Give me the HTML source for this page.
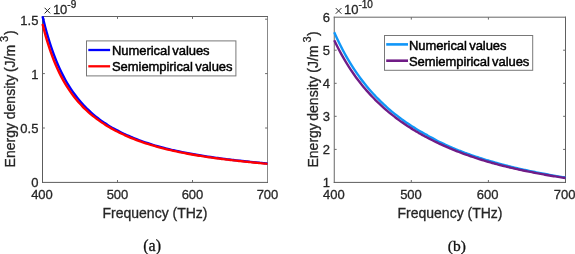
<!DOCTYPE html>
<html><head><meta charset="utf-8"><title>Energy density vs frequency</title>
<style>
html,body{margin:0;padding:0;background:#fff;}
body{width:575px;height:254px;overflow:hidden;font-family:"Liberation Sans",sans-serif;}
svg{display:block;will-change:transform;font-family:"Liberation Sans",sans-serif;}
</style></head><body>
<svg width="575" height="254" viewBox="0 0 575 254">
<rect width="575" height="254" fill="#fff"/>
<g id="chart-a">
<path d="M42.5,16.0V182.9" stroke="#5c5c5c" stroke-width="1" fill="none"/>
<path d="M267.5,16.0V182.9" stroke="#888" stroke-width="1" fill="none"/>
<path d="M42.0,16.5H268.0" stroke="#606060" stroke-width="1" fill="none"/>
<path d="M42.0,182.4H268.0" stroke="#5c5c5c" stroke-width="1" fill="none"/>
<path d="M117.5,182.4v-2.4" stroke="#6a6a6a" stroke-width="1" fill="none"/>
<path d="M117.5,16.5v2.4" stroke="#6a6a6a" stroke-width="1" fill="none"/>
<path d="M192.5,182.4v-2.4" stroke="#6a6a6a" stroke-width="1" fill="none"/>
<path d="M192.5,16.5v2.4" stroke="#6a6a6a" stroke-width="1" fill="none"/>
<path d="M42.5,128.0h2.4" stroke="#6a6a6a" stroke-width="1" fill="none"/>
<path d="M267.5,128.0h-2.4" stroke="#6a6a6a" stroke-width="1" fill="none"/>
<path d="M42.5,73.6h2.4" stroke="#6a6a6a" stroke-width="1" fill="none"/>
<path d="M267.5,73.6h-2.4" stroke="#6a6a6a" stroke-width="1" fill="none"/>
<path d="M42.5,19.2h2.4" stroke="#6a6a6a" stroke-width="1" fill="none"/>
<path d="M267.5,19.2h-2.4" stroke="#6a6a6a" stroke-width="1" fill="none"/>
<path d="M42.50,16.20C42.98,18.10 44.40,24.02 45.35,27.60C46.30,31.18 47.25,34.52 48.20,37.70C49.15,40.88 50.09,43.84 51.04,46.68C51.99,49.52 52.94,52.18 53.89,54.72C54.84,57.26 55.79,59.65 56.74,61.94C57.69,64.23 58.64,66.38 59.59,68.45C60.54,70.52 61.49,72.47 62.44,74.35C63.39,76.23 64.33,78.01 65.28,79.72C66.23,81.43 67.18,83.06 68.13,84.62C69.08,86.19 70.03,87.67 70.98,89.11C71.93,90.55 72.88,91.92 73.83,93.24C74.78,94.56 75.73,95.82 76.68,97.04C77.63,98.26 78.58,99.43 79.53,100.56C80.48,101.69 81.42,102.78 82.37,103.83C83.32,104.88 84.27,105.88 85.22,106.86C86.17,107.84 87.12,108.78 88.07,109.69C89.02,110.60 89.97,111.48 90.92,112.34C91.87,113.20 92.82,114.02 93.77,114.82C94.72,115.62 95.66,116.39 96.61,117.14C97.56,117.89 98.51,118.62 99.46,119.33C100.41,120.04 101.36,120.72 102.31,121.39C103.26,122.06 104.21,122.71 105.16,123.34C106.11,123.97 107.06,124.57 108.01,125.17C108.96,125.77 109.90,126.35 110.85,126.92C111.80,127.49 112.75,128.03 113.70,128.57C114.65,129.10 115.60,129.62 116.55,130.13C117.50,130.64 118.45,131.13 119.40,131.62C120.35,132.11 121.30,132.58 122.25,133.04C123.20,133.50 124.14,133.95 125.09,134.39C126.04,134.83 126.99,135.26 127.94,135.68C128.89,136.10 129.84,136.51 130.79,136.91C131.74,137.31 132.69,137.70 133.64,138.08C134.59,138.46 135.54,138.84 136.49,139.21C137.44,139.58 138.39,139.93 139.34,140.28C140.29,140.63 141.23,140.97 142.18,141.31C143.13,141.65 144.08,141.98 145.03,142.30C145.98,142.62 146.93,142.93 147.88,143.24C148.83,143.55 149.78,143.85 150.73,144.15C151.68,144.45 152.63,144.74 153.58,145.02C154.53,145.31 155.47,145.59 156.42,145.86C157.37,146.13 158.32,146.40 159.27,146.66C160.22,146.92 161.17,147.18 162.12,147.43C163.07,147.68 164.02,147.93 164.97,148.17C165.92,148.41 166.87,148.65 167.82,148.89C168.77,149.12 169.71,149.36 170.66,149.58C171.61,149.81 172.56,150.02 173.51,150.24C174.46,150.46 175.41,150.67 176.36,150.88C177.31,151.09 178.26,151.29 179.21,151.49C180.16,151.69 181.11,151.89 182.06,152.08C183.01,152.28 183.96,152.47 184.91,152.66C185.86,152.85 186.80,153.03 187.75,153.21C188.70,153.39 189.65,153.56 190.60,153.74C191.55,153.92 192.50,154.09 193.45,154.26C194.40,154.43 195.35,154.60 196.30,154.76C197.25,154.92 198.20,155.08 199.15,155.24C200.10,155.40 201.04,155.55 201.99,155.70C202.94,155.85 203.89,156.00 204.84,156.15C205.79,156.30 206.74,156.45 207.69,156.59C208.64,156.73 209.59,156.87 210.54,157.01C211.49,157.15 212.44,157.28 213.39,157.42C214.34,157.55 215.28,157.69 216.23,157.82C217.18,157.95 218.13,158.08 219.08,158.21C220.03,158.34 220.98,158.46 221.93,158.58C222.88,158.70 223.83,158.82 224.78,158.94C225.73,159.06 226.68,159.18 227.63,159.30C228.58,159.42 229.52,159.53 230.47,159.64C231.42,159.75 232.37,159.87 233.32,159.98C234.27,160.09 235.22,160.20 236.17,160.31C237.12,160.42 238.07,160.53 239.02,160.63C239.97,160.73 240.92,160.84 241.87,160.94C242.82,161.04 243.77,161.14 244.72,161.24C245.67,161.34 246.61,161.44 247.56,161.54C248.51,161.64 249.46,161.73 250.41,161.83C251.36,161.93 252.31,162.03 253.26,162.12C254.21,162.22 255.16,162.31 256.11,162.40C257.06,162.49 258.01,162.58 258.96,162.67C259.91,162.76 260.85,162.86 261.80,162.95C262.75,163.04 263.70,163.12 264.65,163.21C265.60,163.30 267.02,163.44 267.50,163.48" fill="none" stroke="#0000ff" stroke-width="2.35" stroke-linecap="butt" stroke-linejoin="round"/>
<path d="M42.50,23.97C42.98,25.79 44.40,31.45 45.35,34.87C46.30,38.28 47.25,41.45 48.20,44.46C49.15,47.47 50.09,50.28 51.04,52.95C51.99,55.62 52.94,58.12 53.89,60.51C54.84,62.90 55.79,65.14 56.74,67.28C57.69,69.42 58.64,71.44 59.59,73.37C60.54,75.30 61.49,77.13 62.44,78.88C63.39,80.63 64.33,82.29 65.28,83.88C66.23,85.47 67.18,86.98 68.13,88.44C69.08,89.89 70.03,91.28 70.98,92.61C71.93,93.94 72.88,95.22 73.83,96.45C74.78,97.68 75.73,98.86 76.68,100.00C77.63,101.14 78.58,102.23 79.53,103.28C80.48,104.33 81.42,105.34 82.37,106.32C83.32,107.30 84.27,108.24 85.22,109.16C86.17,110.08 87.12,110.96 88.07,111.82C89.02,112.68 89.97,113.50 90.92,114.30C91.87,115.10 92.82,115.88 93.77,116.63C94.72,117.38 95.66,118.12 96.61,118.83C97.56,119.54 98.51,120.23 99.46,120.90C100.41,121.57 101.36,122.22 102.31,122.86C103.26,123.50 104.21,124.11 105.16,124.71C106.11,125.31 107.06,125.90 108.01,126.47C108.96,127.04 109.90,127.59 110.85,128.13C111.80,128.67 112.75,129.20 113.70,129.72C114.65,130.24 115.60,130.74 116.55,131.23C117.50,131.72 118.45,132.19 119.40,132.66C120.35,133.13 121.30,133.59 122.25,134.04C123.20,134.49 124.14,134.92 125.09,135.35C126.04,135.78 126.99,136.19 127.94,136.60C128.89,137.01 129.84,137.40 130.79,137.79C131.74,138.18 132.69,138.56 133.64,138.94C134.59,139.31 135.54,139.68 136.49,140.04C137.44,140.40 138.39,140.75 139.34,141.09C140.29,141.43 141.23,141.76 142.18,142.09C143.13,142.42 144.08,142.74 145.03,143.06C145.98,143.38 146.93,143.69 147.88,143.99C148.83,144.29 149.78,144.59 150.73,144.88C151.68,145.17 152.63,145.45 153.58,145.73C154.53,146.01 155.47,146.28 156.42,146.55C157.37,146.82 158.32,147.08 159.27,147.34C160.22,147.60 161.17,147.85 162.12,148.10C163.07,148.35 164.02,148.59 164.97,148.83C165.92,149.07 166.87,149.30 167.82,149.53C168.77,149.76 169.71,149.98 170.66,150.20C171.61,150.42 172.56,150.64 173.51,150.85C174.46,151.06 175.41,151.26 176.36,151.47C177.31,151.68 178.26,151.88 179.21,152.08C180.16,152.28 181.11,152.47 182.06,152.66C183.01,152.85 183.96,153.03 184.91,153.21C185.86,153.39 186.80,153.57 187.75,153.75C188.70,153.93 189.65,154.10 190.60,154.27C191.55,154.44 192.50,154.61 193.45,154.77C194.40,154.94 195.35,155.10 196.30,155.26C197.25,155.42 198.20,155.58 199.15,155.73C200.10,155.88 201.04,156.03 201.99,156.18C202.94,156.33 203.89,156.48 204.84,156.62C205.79,156.76 206.74,156.90 207.69,157.04C208.64,157.18 209.59,157.31 210.54,157.45C211.49,157.58 212.44,157.72 213.39,157.85C214.34,157.98 215.28,158.10 216.23,158.23C217.18,158.36 218.13,158.49 219.08,158.61C220.03,158.73 220.98,158.85 221.93,158.97C222.88,159.09 223.83,159.20 224.78,159.32C225.73,159.44 226.68,159.55 227.63,159.67C228.58,159.78 229.52,159.90 230.47,160.01C231.42,160.12 232.37,160.22 233.32,160.33C234.27,160.44 235.22,160.55 236.17,160.66C237.12,160.77 238.07,160.87 239.02,160.97C239.97,161.07 240.92,161.18 241.87,161.28C242.82,161.38 243.77,161.48 244.72,161.58C245.67,161.68 246.61,161.78 247.56,161.88C248.51,161.98 249.46,162.07 250.41,162.17C251.36,162.27 252.31,162.36 253.26,162.46C254.21,162.56 255.16,162.66 256.11,162.75C257.06,162.84 258.01,162.94 258.96,163.03C259.91,163.12 260.85,163.22 261.80,163.31C262.75,163.40 263.70,163.49 264.65,163.58C265.60,163.67 267.02,163.81 267.50,163.86" fill="none" stroke="#ff0000" stroke-width="2.35" stroke-linecap="butt" stroke-linejoin="round"/>
<text x="42.0" y="199.3" font-size="13" text-anchor="middle" fill="#262626" stroke="#262626" stroke-width="0.3">400</text>
<text x="117.5" y="199.3" font-size="13" text-anchor="middle" fill="#262626" stroke="#262626" stroke-width="0.3">500</text>
<text x="192.5" y="199.3" font-size="13" text-anchor="middle" fill="#262626" stroke="#262626" stroke-width="0.3">600</text>
<text x="267.5" y="199.3" font-size="13" text-anchor="middle" fill="#262626" stroke="#262626" stroke-width="0.3">700</text>
<text x="38.4" y="187.00" font-size="13" text-anchor="end" fill="#262626" stroke="#262626" stroke-width="0.3" >0</text>
<text x="38.4" y="133.20" font-size="13" text-anchor="end" fill="#262626" stroke="#262626" stroke-width="0.3" >0.5</text>
<text x="38.4" y="78.60" font-size="13" text-anchor="end" fill="#262626" stroke="#262626" stroke-width="0.3" >1</text>
<text x="38.4" y="24.60" font-size="13" text-anchor="end" fill="#262626" stroke="#262626" stroke-width="0.3" >1.5</text>
<path d="M44.6,7.8L50.199999999999996,13.399999999999999M44.6,13.399999999999999L50.199999999999996,7.8" stroke="#262626" stroke-width="1.0" fill="none"/>
<text x="52.9" y="13.8" font-size="13" fill="#262626" stroke="#262626" stroke-width="0.3">10</text>
<text x="67.3" y="7.75" font-size="10" fill="#262626" stroke="#262626" stroke-width="0.3">-9</text>
<text x="155" y="217.8" font-size="14" text-anchor="middle" fill="#262626" stroke="#262626" stroke-width="0.3" >Frequency (THz)</text>
<text transform="translate(15.2,167.4) rotate(-90)" font-size="14" fill="#262626" stroke="#262626" stroke-width="0.3">Energy</text>
<text transform="translate(15.2,119.2) rotate(-90)" font-size="14" fill="#262626" stroke="#262626" stroke-width="0.3">density</text>
<text transform="translate(15.2,72.1) rotate(-90)" font-size="14" fill="#262626" stroke="#262626" stroke-width="0.3">(J/m</text>
<text transform="translate(8.399999999999999,41.9) rotate(-90)" font-size="11" fill="#262626" stroke="#262626" stroke-width="0.3">3</text>
<text transform="translate(15.2,35.1) rotate(-90)" font-size="14" fill="#262626" stroke="#262626" stroke-width="0.3">)</text>
<rect x="86.5" y="40.9" width="149.40" height="35.00" fill="#fff" stroke="#787878" stroke-width="1"/>
<path d="M88.3,50.0H110.1" stroke="#0000ff" stroke-width="2.3" fill="none"/>
<text x="112" y="54.80" font-size="13" fill="#000" word-spacing="-1.2" letter-spacing="-0.06" stroke="#000" stroke-width="0.45">Numerical values</text>
<path d="M88.3,66.3H110.1" stroke="#ff0000" stroke-width="2.3" fill="none"/>
<text x="112" y="70.90" font-size="13" fill="#000" word-spacing="-1.2" letter-spacing="-0.06" stroke="#000" stroke-width="0.45">Semiempirical values</text>
<text x="152.1" y="251.2" font-size="16" text-anchor="middle" fill="#111" stroke="#111" stroke-width="0.3" font-family="'Liberation Serif', serif">(a)</text>
</g>
<g id="chart-b">
<path d="M334.25,16.7V182.9" stroke="#666" stroke-width="1" fill="none"/>
<path d="M565.5,16.7V182.9" stroke="#606060" stroke-width="1" fill="none"/>
<path d="M333.75,17.2H566.0" stroke="#666" stroke-width="1" fill="none"/>
<path d="M333.75,182.4H566.0" stroke="#5c5c5c" stroke-width="1" fill="none"/>
<path d="M411.3,182.4v-2.4" stroke="#6a6a6a" stroke-width="1" fill="none"/>
<path d="M411.3,17.2v2.4" stroke="#6a6a6a" stroke-width="1" fill="none"/>
<path d="M488.4,182.4v-2.4" stroke="#6a6a6a" stroke-width="1" fill="none"/>
<path d="M488.4,17.2v2.4" stroke="#6a6a6a" stroke-width="1" fill="none"/>
<path d="M334.25,149.4h2.4" stroke="#6a6a6a" stroke-width="1" fill="none"/>
<path d="M565.5,149.4h-2.4" stroke="#6a6a6a" stroke-width="1" fill="none"/>
<path d="M334.25,116.3h2.4" stroke="#6a6a6a" stroke-width="1" fill="none"/>
<path d="M565.5,116.3h-2.4" stroke="#6a6a6a" stroke-width="1" fill="none"/>
<path d="M334.25,83.3h2.4" stroke="#6a6a6a" stroke-width="1" fill="none"/>
<path d="M565.5,83.3h-2.4" stroke="#6a6a6a" stroke-width="1" fill="none"/>
<path d="M334.25,50.2h2.4" stroke="#6a6a6a" stroke-width="1" fill="none"/>
<path d="M565.5,50.2h-2.4" stroke="#6a6a6a" stroke-width="1" fill="none"/>
<path d="M334.25,32.33C334.74,33.40 336.20,36.67 337.18,38.75C338.16,40.83 339.12,42.83 340.10,44.78C341.08,46.73 342.05,48.62 343.03,50.46C344.01,52.30 344.98,54.07 345.96,55.80C346.94,57.53 347.91,59.21 348.89,60.84C349.87,62.47 350.83,64.05 351.81,65.60C352.79,67.14 353.76,68.65 354.74,70.11C355.72,71.57 356.70,72.99 357.67,74.38C358.64,75.77 359.62,77.11 360.59,78.43C361.56,79.75 362.54,81.03 363.52,82.28C364.50,83.53 365.47,84.75 366.45,85.94C367.43,87.13 368.40,88.30 369.38,89.43C370.36,90.57 371.32,91.67 372.30,92.75C373.28,93.83 374.25,94.89 375.23,95.92C376.21,96.95 377.18,97.97 378.16,98.96C379.14,99.95 380.12,100.91 381.09,101.86C382.06,102.81 383.03,103.73 384.01,104.64C384.99,105.55 385.96,106.43 386.94,107.30C387.92,108.17 388.89,109.01 389.87,109.85C390.85,110.69 391.81,111.51 392.79,112.31C393.77,113.11 394.74,113.89 395.72,114.66C396.70,115.43 397.67,116.19 398.65,116.93C399.63,117.67 400.60,118.40 401.58,119.11C402.56,119.82 403.52,120.52 404.50,121.21C405.48,121.90 406.45,122.58 407.43,123.24C408.41,123.90 409.38,124.55 410.36,125.19C411.34,125.83 412.30,126.46 413.28,127.08C414.25,127.70 415.23,128.30 416.21,128.90C417.19,129.50 418.16,130.09 419.14,130.67C420.12,131.25 421.09,131.81 422.07,132.37C423.05,132.93 424.01,133.47 424.99,134.02C425.97,134.58 426.94,135.15 427.92,135.70C428.90,136.25 429.87,136.79 430.85,137.33C431.83,137.87 432.80,138.40 433.78,138.92C434.75,139.44 435.72,139.96 436.70,140.46C437.68,140.97 438.65,141.46 439.63,141.95C440.61,142.44 441.58,142.93 442.56,143.41C443.54,143.89 444.50,144.36 445.48,144.81C446.46,145.26 447.43,145.69 448.41,146.12C449.39,146.55 450.36,146.97 451.34,147.39C452.32,147.81 453.29,148.22 454.27,148.62C455.25,149.03 456.21,149.42 457.19,149.82C458.17,150.22 459.14,150.61 460.12,150.99C461.10,151.37 462.07,151.74 463.05,152.11C464.03,152.48 465.00,152.83 465.97,153.19C466.95,153.55 467.92,153.90 468.90,154.25C469.88,154.60 470.85,154.94 471.83,155.28C472.81,155.62 473.78,155.95 474.76,156.28C475.74,156.61 476.70,156.94 477.68,157.26C478.66,157.58 479.63,157.89 480.61,158.20C481.59,158.51 482.56,158.82 483.54,159.13C484.52,159.44 485.50,159.73 486.47,160.03C487.45,160.33 488.41,160.62 489.39,160.91C490.37,161.20 491.34,161.49 492.32,161.77C493.30,162.05 494.27,162.33 495.25,162.60C496.23,162.87 497.19,163.14 498.17,163.41C499.15,163.68 500.12,163.94 501.10,164.20C502.08,164.46 503.05,164.72 504.03,164.98C505.01,165.23 505.98,165.48 506.96,165.73C507.94,165.98 508.90,166.23 509.88,166.47C510.86,166.71 511.83,166.94 512.81,167.18C513.79,167.42 514.76,167.65 515.74,167.88C516.72,168.11 517.68,168.34 518.66,168.56C519.63,168.78 520.61,169.01 521.59,169.23C522.57,169.45 523.54,169.66 524.52,169.87C525.50,170.08 526.48,170.30 527.45,170.51C528.43,170.72 529.39,170.92 530.37,171.12C531.35,171.32 532.32,171.53 533.30,171.73C534.28,171.93 535.25,172.12 536.23,172.31C537.21,172.50 538.18,172.70 539.16,172.89C540.13,173.08 541.11,173.26 542.08,173.45C543.06,173.64 544.03,173.83 545.01,174.01C545.99,174.19 546.97,174.37 547.94,174.55C548.92,174.73 549.88,174.91 550.86,175.08C551.84,175.25 552.81,175.43 553.79,175.60C554.77,175.77 555.74,175.93 556.72,176.10C557.70,176.27 558.67,176.44 559.65,176.60C560.62,176.76 561.60,176.92 562.57,177.08C563.55,177.24 565.01,177.46 565.50,177.54" fill="none" stroke="#1096f8" stroke-width="2.4" stroke-linecap="butt" stroke-linejoin="round"/>
<path d="M334.25,40.25C334.74,41.24 336.20,44.29 337.18,46.22C338.16,48.15 339.12,50.01 340.10,51.83C341.08,53.65 342.05,55.41 343.03,57.12C344.01,58.83 344.98,60.49 345.96,62.10C346.94,63.71 347.91,65.27 348.89,66.80C349.87,68.33 350.83,69.81 351.81,71.25C352.79,72.69 353.76,74.10 354.74,75.47C355.72,76.84 356.70,78.17 357.67,79.47C358.64,80.77 359.62,82.04 360.59,83.28C361.56,84.52 362.54,85.72 363.52,86.90C364.50,88.08 365.47,89.23 366.45,90.35C367.43,91.47 368.40,92.57 369.38,93.64C370.36,94.71 371.32,95.75 372.30,96.78C373.28,97.81 374.25,98.81 375.23,99.79C376.21,100.77 377.18,101.73 378.16,102.67C379.14,103.61 380.12,104.53 381.09,105.43C382.06,106.33 383.03,107.22 384.01,108.08C384.99,108.94 385.96,109.79 386.94,110.62C387.92,111.45 388.89,112.27 389.87,113.07C390.85,113.87 391.81,114.65 392.79,115.42C393.77,116.19 394.74,116.95 395.72,117.69C396.70,118.43 397.67,119.16 398.65,119.87C399.63,120.58 400.60,121.28 401.58,121.97C402.56,122.66 403.52,123.34 404.50,124.01C405.48,124.68 406.45,125.33 407.43,125.97C408.41,126.61 409.38,127.24 410.36,127.86C411.34,128.48 412.30,129.10 413.28,129.70C414.25,130.30 415.23,130.89 416.21,131.47C417.19,132.05 418.16,132.63 419.14,133.19C420.12,133.75 421.09,134.31 422.07,134.85C423.05,135.39 424.01,135.93 424.99,136.46C425.97,136.99 426.94,137.51 427.92,138.02C428.90,138.53 429.87,139.03 430.85,139.53C431.83,140.03 432.80,140.52 433.78,141.00C434.75,141.48 435.72,141.95 436.70,142.42C437.68,142.89 438.65,143.35 439.63,143.81C440.61,144.27 441.58,144.71 442.56,145.15C443.54,145.59 444.50,146.02 445.48,146.45C446.46,146.88 447.43,147.30 448.41,147.71C449.39,148.12 450.36,148.53 451.34,148.94C452.32,149.34 453.29,149.75 454.27,150.14C455.25,150.53 456.21,150.92 457.19,151.30C458.17,151.68 459.14,152.06 460.12,152.43C461.10,152.80 462.07,153.17 463.05,153.53C464.03,153.89 465.00,154.24 465.97,154.59C466.95,154.94 467.92,155.29 468.90,155.63C469.88,155.97 470.85,156.31 471.83,156.64C472.81,156.97 473.78,157.30 474.76,157.62C475.74,157.94 476.70,158.26 477.68,158.57C478.66,158.88 479.63,159.19 480.61,159.50C481.59,159.81 482.56,160.10 483.54,160.40C484.52,160.70 485.50,160.99 486.47,161.28C487.45,161.57 488.41,161.86 489.39,162.14C490.37,162.42 491.34,162.70 492.32,162.97C493.30,163.24 494.27,163.51 495.25,163.78C496.23,164.05 497.19,164.30 498.17,164.56C499.15,164.82 500.12,165.08 501.10,165.33C502.08,165.58 503.05,165.83 504.03,166.07C505.01,166.31 505.98,166.55 506.96,166.79C507.94,167.03 508.90,167.27 509.88,167.50C510.86,167.73 511.83,167.96 512.81,168.18C513.79,168.40 514.76,168.62 515.74,168.84C516.72,169.06 517.68,169.28 518.66,169.49C519.63,169.70 520.61,169.91 521.59,170.12C522.57,170.33 523.54,170.53 524.52,170.73C525.50,170.93 526.48,171.12 527.45,171.32C528.43,171.51 529.39,171.71 530.37,171.90C531.35,172.09 532.32,172.30 533.30,172.49C534.28,172.69 535.25,172.88 536.23,173.07C537.21,173.26 538.18,173.45 539.16,173.63C540.13,173.81 541.11,173.99 542.08,174.17C543.06,174.35 544.03,174.52 545.01,174.70C545.99,174.88 546.97,175.05 547.94,175.22C548.92,175.39 549.88,175.56 550.86,175.72C551.84,175.88 552.81,176.04 553.79,176.20C554.77,176.36 555.74,176.51 556.72,176.67C557.70,176.82 558.67,176.98 559.65,177.13C560.62,177.28 561.60,177.43 562.57,177.58C563.55,177.73 565.01,177.94 565.50,178.01" fill="none" stroke="#701c86" stroke-width="2.4" stroke-linecap="butt" stroke-linejoin="round"/>
<text x="333.8" y="199.3" font-size="13" text-anchor="middle" fill="#262626" stroke="#262626" stroke-width="0.3">400</text>
<text x="411.0" y="199.3" font-size="13" text-anchor="middle" fill="#262626" stroke="#262626" stroke-width="0.3">500</text>
<text x="487.6" y="199.3" font-size="13" text-anchor="middle" fill="#262626" stroke="#262626" stroke-width="0.3">600</text>
<text x="564.6" y="199.3" font-size="13" text-anchor="middle" fill="#262626" stroke="#262626" stroke-width="0.3">700</text>
<text x="329.9" y="186.60" font-size="13" text-anchor="end" fill="#262626" stroke="#262626" stroke-width="0.3" >1</text>
<text x="329.9" y="153.80" font-size="13" text-anchor="end" fill="#262626" stroke="#262626" stroke-width="0.3" >2</text>
<text x="329.9" y="121.10" font-size="13" text-anchor="end" fill="#262626" stroke="#262626" stroke-width="0.3" >3</text>
<text x="329.9" y="87.70" font-size="13" text-anchor="end" fill="#262626" stroke="#262626" stroke-width="0.3" >4</text>
<text x="329.9" y="55.40" font-size="13" text-anchor="end" fill="#262626" stroke="#262626" stroke-width="0.3" >5</text>
<text x="329.9" y="22.40" font-size="13" text-anchor="end" fill="#262626" stroke="#262626" stroke-width="0.3" >6</text>
<path d="M335.8,8.100000000000001L341.40000000000003,13.7M335.8,13.7L341.40000000000003,8.100000000000001" stroke="#262626" stroke-width="1.0" fill="none"/>
<text x="344.0" y="14.0" font-size="13" fill="#262626" stroke="#262626" stroke-width="0.3">10</text>
<text x="358.4" y="7.95" font-size="10" fill="#262626" stroke="#262626" stroke-width="0.3">-10</text>
<text x="450" y="217.6" font-size="14" text-anchor="middle" fill="#262626" stroke="#262626" stroke-width="0.3" >Frequency (THz)</text>
<text transform="translate(317.7,167.5) rotate(-90)" font-size="14" fill="#262626" stroke="#262626" stroke-width="0.3">Energy</text>
<text transform="translate(317.7,120.7) rotate(-90)" font-size="14" fill="#262626" stroke="#262626" stroke-width="0.3">density</text>
<text transform="translate(317.7,72.7) rotate(-90)" font-size="14" fill="#262626" stroke="#262626" stroke-width="0.3">(J/m</text>
<text transform="translate(310.7,42.5) rotate(-90)" font-size="11" fill="#262626" stroke="#262626" stroke-width="0.3">3</text>
<text transform="translate(317.7,36.1) rotate(-90)" font-size="14" fill="#262626" stroke="#262626" stroke-width="0.3">)</text>
<rect x="384.5" y="35.5" width="148.20" height="34.80" fill="#fff" stroke="#787878" stroke-width="1"/>
<path d="M386.2,44.4H408" stroke="#1096f8" stroke-width="2.6" fill="none"/>
<text x="408.9" y="49.50" font-size="13" fill="#000" word-spacing="-1.2" letter-spacing="-0.06" stroke="#000" stroke-width="0.45">Numerical values</text>
<path d="M386.2,60.7H408" stroke="#701c86" stroke-width="2.6" fill="none"/>
<text x="408.9" y="66.10" font-size="13" fill="#000" word-spacing="-1.2" letter-spacing="-0.06" stroke="#000" stroke-width="0.45">Semiempirical values</text>
<text x="456.8" y="251.2" font-size="15.5" text-anchor="middle" fill="#111" stroke="#111" stroke-width="0.3" font-family="'Liberation Serif', serif">(b)</text>
</g>
</svg>
</body></html>
